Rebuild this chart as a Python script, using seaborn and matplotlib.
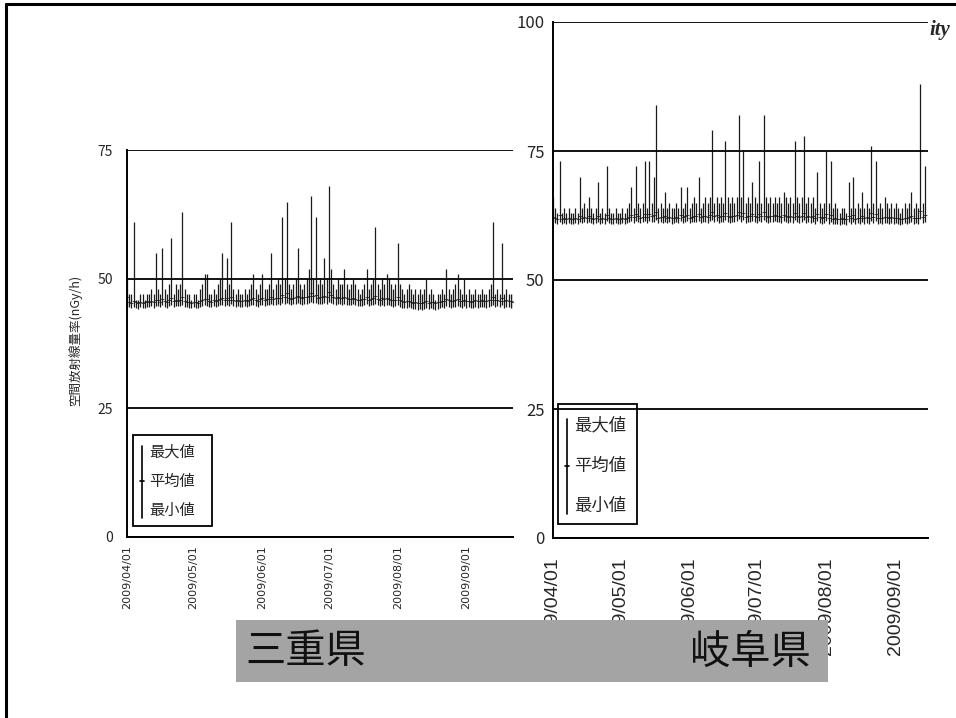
import numpy as np
import pandas as pd
import matplotlib
matplotlib.use('Agg')
import matplotlib.pyplot as plt
import matplotlib.dates as mdates
from matplotlib.patches import Rectangle
from matplotlib.lines import Line2D
import seaborn as sns

# 三重県 (daily max / mean / min, nGy/h), 2009/04/01 から
mie_max = [50, 47, 47, 61, 46, 46, 47, 47, 46, 47,
           47, 48, 47, 55, 48, 47, 56, 48, 47, 49,
           58, 47, 49, 48, 49, 63, 48, 47, 47, 46,
           47, 47, 46, 48, 49, 51, 51, 47, 47, 48,
           47, 49, 50, 55, 48, 54, 49, 61, 48, 47,
           48, 47, 47, 48, 47, 48, 49, 51, 48, 47,
           49, 51, 48, 48, 49, 55, 48, 49, 50, 49,
           62, 50, 65, 49, 48, 49, 50, 56, 49, 48,
           49, 50, 52, 66, 50, 62, 49, 50, 49, 54,
           50, 68, 52, 49, 48, 50, 49, 49, 52, 49,
           48, 49, 50, 49, 48, 47, 48, 49, 52, 48,
           49, 50, 60, 49, 48, 50, 49, 51, 50, 49,
           48, 49, 57, 49, 48, 47, 48, 49, 48, 47,
           48, 47, 48, 47, 48, 50, 47, 48, 47, 46,
           47, 47, 48, 47, 52, 48, 47, 48, 49, 51,
           48, 47, 50, 47, 48, 47, 47, 48, 47, 47,
           48, 47, 47, 48, 49, 61, 47, 48, 47, 57,
           47, 48, 47, 47, 47]
mie_mean = [46.5, 45.6, 45.4, 45.8, 45.5, 45.3, 45.6, 45.4, 45.5, 45.7,
            45.6, 45.8, 45.5, 46.0, 45.9, 45.6, 46.2, 45.8, 45.5, 45.9,
            46.4, 45.7, 45.9, 45.8, 46.0, 46.5, 45.8, 45.6, 45.5, 45.4,
            45.6, 45.5, 45.4, 45.8, 46.0, 46.2, 46.1, 45.7, 45.6, 45.9,
            45.8, 46.0, 46.2, 46.4, 45.9, 46.3, 46.0, 46.6, 45.9, 45.8,
            45.9, 45.7, 45.8, 45.9, 45.7, 45.9, 46.1, 46.3, 45.9, 45.8,
            46.1, 46.3, 46.0, 46.1, 46.2, 46.5, 46.1, 46.3, 46.4, 46.3,
            46.9, 46.5, 47.2, 46.4, 46.2, 46.4, 46.6, 46.8, 46.5, 46.3,
            46.5, 46.6, 46.8, 47.3, 46.7, 46.9, 46.4, 46.6, 46.5, 46.7,
            46.6, 47.5, 46.9, 46.5, 46.3, 46.6, 46.4, 46.3, 46.6, 46.3,
            46.1, 46.2, 46.4, 46.2, 46.0, 45.9, 46.1, 46.2, 46.5, 46.0,
            46.2, 46.3, 46.8, 46.2, 46.0, 46.3, 46.1, 46.4, 46.2, 46.0,
            45.9, 46.0, 46.5, 45.9, 45.7, 45.6, 45.7, 45.8, 45.6, 45.4,
            45.5, 45.3, 45.4, 45.3, 45.5, 45.8, 45.4, 45.6, 45.5, 45.3,
            45.5, 45.6, 45.8, 45.7, 46.1, 45.9, 45.7, 45.8, 45.9, 46.1,
            45.8, 45.7, 46.0, 45.7, 45.8, 45.6, 45.7, 45.9, 45.7, 45.8,
            45.9, 45.8, 45.7, 45.9, 46.0, 46.6, 45.9, 46.0, 45.8, 46.3,
            45.7, 45.9, 45.8, 45.7, 45.6]
mie_min = [44.6, 44.5, 44.3, 44.6, 44.4, 44.2, 44.5, 44.3, 44.4, 44.6,
           44.5, 44.7, 44.4, 44.8, 44.7, 44.5, 44.9, 44.6, 44.4, 44.7,
           44.9, 44.6, 44.8, 44.7, 44.8, 45.0, 44.6, 44.5, 44.4, 44.3,
           44.5, 44.4, 44.3, 44.6, 44.8, 44.9, 44.8, 44.6, 44.5, 44.7,
           44.6, 44.8, 44.9, 45.0, 44.7, 45.0, 44.8, 45.1, 44.7, 44.6,
           44.7, 44.5, 44.6, 44.7, 44.5, 44.7, 44.9, 45.0, 44.7, 44.6,
           44.9, 45.0, 44.8, 44.9, 45.0, 45.1, 44.9, 45.0, 45.1, 45.0,
           45.3, 45.1, 45.4, 45.1, 44.9, 45.1, 45.2, 45.3, 45.1, 45.0,
           45.1, 45.2, 45.3, 45.5, 45.3, 45.4, 45.1, 45.2, 45.1, 45.3,
           45.2, 45.6, 45.4, 45.1, 45.0, 45.2, 45.1, 45.0, 45.2, 45.0,
           44.9, 44.9, 45.1, 44.9, 44.8, 44.7, 44.8, 44.9, 45.1, 44.8,
           44.9, 45.0, 45.2, 44.9, 44.8, 45.0, 44.8, 45.0, 44.9, 44.7,
           44.6, 44.7, 45.0, 44.6, 44.4, 44.3, 44.4, 44.5, 44.3, 44.1,
           44.2, 44.0, 44.1, 44.0, 44.2, 44.4, 44.1, 44.3, 44.2, 44.0,
           44.2, 44.3, 44.5, 44.4, 44.7, 44.6, 44.4, 44.5, 44.6, 44.8,
           44.5, 44.4, 44.7, 44.4, 44.5, 44.3, 44.4, 44.6, 44.4, 44.5,
           44.6, 44.5, 44.4, 44.6, 44.7, 45.0, 44.6, 44.7, 44.5, 44.9,
           44.4, 44.6, 44.5, 44.4, 44.3]

# 岐阜県
gifu_max = [66, 64, 63, 73, 63, 64, 63, 64, 63, 63,
            64, 63, 70, 64, 65, 64, 66, 64, 63, 64,
            69, 63, 64, 63, 72, 64, 63, 63, 64, 63,
            63, 64, 63, 64, 65, 68, 64, 72, 65, 64,
            65, 73, 64, 73, 65, 70, 84, 64, 65, 64,
            67, 64, 65, 64, 64, 65, 64, 68, 64, 65,
            68, 64, 65, 66, 65, 70, 64, 65, 66, 65,
            66, 79, 65, 66, 65, 66, 65, 77, 66, 65,
            66, 65, 66, 82, 66, 75, 65, 66, 65, 69,
            66, 65, 73, 65, 82, 66, 65, 66, 65, 66,
            65, 66, 65, 67, 66, 65, 66, 65, 77, 66,
            65, 66, 78, 65, 66, 65, 66, 64, 71, 65,
            64, 65, 75, 65, 73, 64, 65, 64, 63, 64,
            64, 63, 69, 64, 70, 64, 65, 64, 67, 64,
            65, 64, 76, 65, 73, 64, 65, 64, 66, 65,
            64, 65, 64, 65, 64, 63, 64, 65, 64, 65,
            67, 64, 65, 64, 88, 65, 72]
gifu_mean = [62.3, 62.0, 61.8, 62.6, 61.9, 62.0, 61.8, 62.1, 61.9, 61.8,
             62.0, 61.9, 62.5, 62.1, 62.3, 62.0, 62.4, 62.1, 61.9, 62.0,
             62.5, 61.9, 62.1, 61.8, 62.6, 62.0, 61.9, 61.8, 62.0, 61.9,
             61.8, 62.0, 61.9, 62.1, 62.3, 62.6, 62.2, 62.7, 62.4, 62.1,
             62.3, 62.8, 62.2, 62.7, 62.4, 62.6, 63.2, 62.1, 62.3, 62.2,
             62.5, 62.1, 62.3, 62.0, 62.1, 62.3, 62.1, 62.6, 62.2, 62.4,
             62.6, 62.1, 62.3, 62.5, 62.4, 62.7, 62.2, 62.4, 62.5, 62.3,
             62.6, 63.1, 62.4, 62.6, 62.3, 62.5, 62.4, 63.0, 62.5, 62.3,
             62.5, 62.4, 62.6, 63.2, 62.5, 62.9, 62.3, 62.5, 62.4, 62.7,
             62.5, 62.3, 62.8, 62.4, 63.1, 62.5, 62.3, 62.5, 62.4, 62.6,
             62.4, 62.5, 62.3, 62.6, 62.4, 62.3, 62.5, 62.3, 62.9, 62.4,
             62.3, 62.4, 63.0, 62.2, 62.4, 62.3, 62.4, 62.1, 62.7, 62.2,
             62.0, 62.2, 62.8, 62.1, 62.6, 61.9, 62.1, 61.9, 61.8, 62.0,
             61.9, 61.8, 62.5, 62.0, 62.6, 61.9, 62.1, 62.0, 62.4, 62.0,
             62.2, 62.0, 62.9, 62.2, 62.7, 62.0, 62.1, 62.0, 62.3, 62.2,
             62.0, 62.2, 62.0, 62.1, 62.0, 61.8, 61.9, 62.1, 62.0, 62.2,
             62.4, 62.0, 62.1, 62.0, 63.4, 62.2, 62.6]
gifu_min = [61.2, 61.0, 60.8, 61.3, 60.9, 61.0, 60.8, 61.1, 60.9, 60.8,
            61.0, 60.9, 61.3, 61.1, 61.2, 61.0, 61.3, 61.1, 60.9, 61.0,
            61.3, 60.9, 61.1, 60.8, 61.4, 61.0, 60.9, 60.8, 61.0, 60.9,
            60.8, 61.0, 60.9, 61.1, 61.2, 61.4, 61.1, 61.5, 61.2, 61.0,
            61.2, 61.5, 61.1, 61.4, 61.2, 61.3, 61.7, 61.0, 61.2, 61.1,
            61.3, 61.0, 61.2, 60.9, 61.0, 61.2, 61.0, 61.4, 61.1, 61.2,
            61.4, 61.0, 61.2, 61.3, 61.2, 61.5, 61.1, 61.2, 61.3, 61.1,
            61.4, 61.7, 61.2, 61.4, 61.1, 61.3, 61.2, 61.6, 61.3, 61.1,
            61.3, 61.2, 61.4, 61.8, 61.3, 61.6, 61.1, 61.3, 61.2, 61.5,
            61.3, 61.1, 61.5, 61.2, 61.7, 61.3, 61.1, 61.3, 61.2, 61.4,
            61.2, 61.3, 61.1, 61.4, 61.2, 61.1, 61.3, 61.1, 61.6, 61.2,
            61.1, 61.2, 61.6, 61.0, 61.2, 61.1, 61.2, 60.9, 61.4, 61.0,
            60.8, 61.0, 61.5, 60.9, 61.3, 60.8, 60.9, 60.8, 60.7, 60.9,
            60.8, 60.7, 61.2, 60.9, 61.3, 60.8, 61.0, 60.9, 61.2, 60.9,
            61.0, 60.9, 61.5, 61.0, 61.4, 60.9, 61.0, 60.9, 61.1, 61.0,
            60.9, 61.0, 60.9, 61.0, 60.9, 60.7, 60.8, 61.0, 60.9, 61.0,
            61.2, 60.9, 61.0, 60.9, 61.8, 61.0, 61.3]

legend_labels = ['最大値', '平均値', '最小値']
ylabel = '空間放射線量率(nGy/h)'

sns.set_style('white')
plt.rcParams['font.family'] = ['Liberation Sans Narrow', 'Noto Sans CJK JP', 'DejaVu Sans']

W, H = 956, 718
fig = plt.figure(figsize=(W / 100, H / 100), dpi=100)


def fx(x):
    return x / W


def fy(y):
    return 1 - y / H


def make_df(mx, mn, lo):
    d = pd.DataFrame({'max': mx, 'mean': mn, 'min': lo})
    d['date'] = pd.date_range('2009-04-01', periods=len(d), freq='D')
    return d


def draw_panel(ax, d, ymax, yticks, xend_days, xfs, yfs, xfam, xpad, ypad):
    ax.vlines(d['date'], d['min'], d['max'], color='#1a1a1a', lw=0.9)
    sns.scatterplot(data=d, x='date', y='mean', ax=ax, marker='_', s=6,
                    color='#333333', linewidth=0.6, legend=False)
    start = pd.Timestamp('2009-04-01')
    ax.set_xlim(start, start + pd.Timedelta(days=xend_days))
    ax.set_ylim(0, ymax)
    ax.set_yticks(yticks)
    ax.yaxis.grid(True, color='black', lw=1.3)
    ax.set_axisbelow(False)
    for s in ['top', 'right']:
        ax.spines[s].set_visible(False)
    for s in ['left', 'bottom']:
        ax.spines[s].set_color('black')
        ax.spines[s].set_linewidth(1.4)
    ax.xaxis.set_major_locator(mdates.MonthLocator())
    ax.xaxis.set_major_formatter(mdates.DateFormatter('%Y/%m/%d'))
    ax.tick_params(axis='x', direction='in', length=5, width=1, color='black',
                   labelsize=xfs, pad=xpad)
    ax.tick_params(axis='y', length=0, labelsize=yfs, pad=ypad)
    for lab in ax.get_xticklabels():
        lab.set_rotation(90)
        lab.set_horizontalalignment('center')
        lab.set_verticalalignment('top')
        lab.set_family(xfam)
    ax.set_xlabel('')
    ax.set_ylabel('')


mie = make_df(mie_max, mie_mean, mie_min)
gifu = make_df(gifu_max, gifu_mean, gifu_min)

ax1 = fig.add_axes([fx(127), fy(537), fx(513) - fx(127), fy(150) - fy(537)])
draw_panel(ax1, mie, 75, [0, 25, 50, 75], 174, 8, 10,
           ['Liberation Sans Narrow', 'DejaVu Sans'], 6, 10)

ax2 = fig.add_axes([fx(553), fy(538), fx(928) - fx(553), fy(22) - fy(538)])
draw_panel(ax2, gifu, 100, [0, 25, 50, 75, 100], 167.4, 14, 12,
           ['Liberation Sans', 'DejaVu Sans'], 14, 6)

fig.text(fx(75), fy(340), ylabel, rotation=90, ha='center', va='center',
         fontsize=9, family=['Noto Sans CJK JP', 'DejaVu Sans'])


def legend_box(x0, y0, x1, y1, linex, fs, ys):
    fig.add_artist(Rectangle((fx(x0), fy(y1)), fx(x1) - fx(x0), fy(y0) - fy(y1),
                             transform=fig.transFigure, fill=False,
                             edgecolor='black', lw=1.3, zorder=5))
    fig.add_artist(Line2D([fx(linex), fx(linex)], [fy(ys[0] - 6), fy(ys[2] + 8)],
                          transform=fig.transFigure, color='black', lw=1.2, zorder=5))
    fig.add_artist(Line2D([fx(linex - 2), fx(linex + 2)], [fy(ys[1]), fy(ys[1])],
                          transform=fig.transFigure, color='black', lw=1.2, zorder=5))
    for lab, yy in zip(legend_labels, ys):
        fig.text(fx(linex + 7), fy(yy), lab, ha='left', va='center', fontsize=fs,
                 family=['Noto Sans CJK JP'], zorder=6)


legend_box(133, 435, 212, 526, 142, 11, [452, 481, 510])
legend_box(558, 404, 637, 524, 567, 12.5, [425, 466, 506])

# gray banner with prefecture names (covers the lower part of the right tick labels)
fig.add_artist(Rectangle((fx(236), fy(682)), fx(828) - fx(236), fy(620) - fy(682),
                         transform=fig.transFigure, facecolor='#a4a4a4',
                         edgecolor='none', zorder=8))
fig.text(fx(245), fy(652), '三重県', ha='left', va='center', fontsize=29,
         family=['Noto Sans CJK JP'], color='#111111', zorder=9)
fig.text(fx(690), fy(652), '岐阜県', ha='left', va='center', fontsize=29,
         family=['Noto Sans CJK JP'], color='#111111', zorder=9)

# page frame
fig.add_artist(Line2D([fx(6), fx(6)], [fy(4), 0], transform=fig.transFigure,
                      color='black', lw=2.2, zorder=10))
fig.add_artist(Line2D([fx(6), 1], [fy(4), fy(4)], transform=fig.transFigure,
                      color='black', lw=2.2, zorder=10))

fig.text(fx(929), fy(30), 'ity', ha='left', va='center', fontsize=15,
         style='italic', weight='bold', family=['Liberation Serif', 'DejaVu Serif'])

fig.savefig('out.png', dpi=100)
